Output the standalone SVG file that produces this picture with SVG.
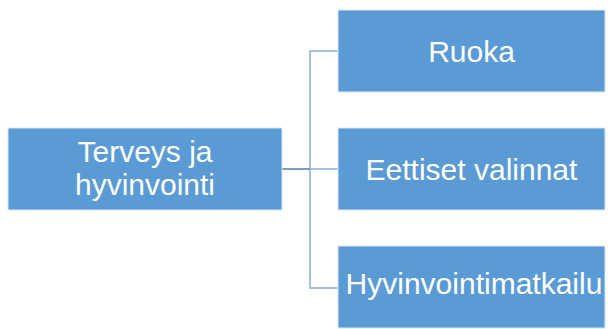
<svg xmlns="http://www.w3.org/2000/svg" width="608" height="329" viewBox="0 0 608 329">
  <style>
    .box { fill: #5B9BD5; stroke: #DCE8F5; stroke-width: 1; }
    .label { font-family: "Liberation Sans", Arial, sans-serif; font-size: 30px; fill: #FFFFFF; text-anchor: middle; }
    .branch { fill: none; stroke: #A9C1E0; stroke-width: 2; }
    .trunk { fill: none; stroke: #4F7DB0; stroke-width: 1.5; }
  </style>
  <rect width="608" height="329" fill="#FFFFFF"/>
  <g id="connectors">
    <path class="branch" d="M338 51 H310 V288 H338"/>
    <path class="branch" d="M310 169 H338"/>
    <path class="trunk" d="M282 169 H310"/>
  </g>
  <g id="root">
    <rect class="box" x="8" y="128" width="274" height="82"/>
    <text class="label" x="145" y="162">Terveys ja</text>
    <text class="label" x="145" y="195">hyvinvointi</text>
  </g>
  <g id="ruoka">
    <rect class="box" x="338" y="10" width="267" height="82"/>
    <text class="label" x="471.5" y="62">Ruoka</text>
  </g>
  <g id="eettiset">
    <rect class="box" x="338" y="128" width="267" height="82"/>
    <text class="label" x="471.5" y="180">Eettiset valinnat</text>
  </g>
  <g id="hyvinvointimatkailu">
    <rect class="box" x="338" y="246" width="267" height="82"/>
    <text class="label" x="474" y="294">Hyvinvointimatkailu</text>
  </g>
</svg>
